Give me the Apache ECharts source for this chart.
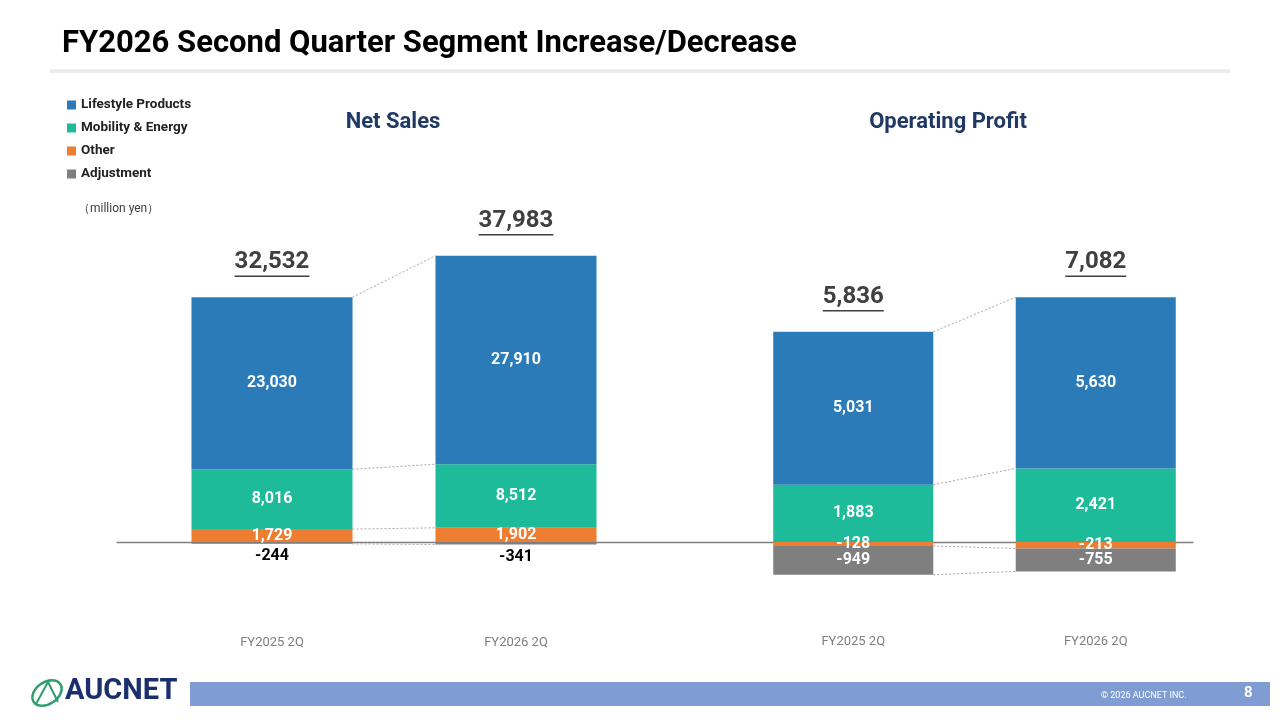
<!DOCTYPE html>
<html>
<head>
<meta charset="utf-8">
<script src="https://cdn.jsdelivr.net/npm/echarts@6/dist/echarts.min.js"></script>
<style>
  html, body { margin: 0; padding: 0; background: #fff; }
  #chart { width: 1280px; height: 720px; }
</style>
</head>
<body>
<div id="chart"></div>
<script>
;(function() {
    var categories = ['FY2025 2Q', 'FY2026 2Q'];
    var segmentNames = ['Lifestyle Products', 'Mobility & Energy', 'Other', 'Adjustment'];

    // Net Sales (million yen)
    var salesLifestyle = [23030, 27910];
    var salesMobility = [8016, 8512];
    var salesOther = [1729, 1902];
    var salesAdjust = [-244, -341];
    var salesTotal = [32532, 37983];

    // Operating Profit (million yen)
    var profitLifestyle = [5031, 5630];
    var profitMobility = [1883, 2421];
    var profitOther = [-128, -213];
    var profitAdjust = [-949, -755];
    var profitTotal = [5836, 7082];

    var colors = {
        'Lifestyle Products': '#2b7bb9',
        'Mobility & Energy': '#1dbb99',
        'Other': '#ed7d31',
        'Adjustment': '#7f7f7f'
    };
    var barRatio = 0.66;
    var font = 'Roboto, "Noto Sans", sans-serif';

    var measureCtx = document.createElement('canvas').getContext('2d');
    function textWidth(txt, f) {
        measureCtx.font = f;
        return measureCtx.measureText(txt).width;
    }
    function fmt(v) {
        return Number(v).toLocaleString('en-US');
    }

    // stack order bottom-up: Other, Adjustment, Mobility, Lifestyle
    function stackOrder(life, mob, oth, adj) {
        return [
            { name: 'Other', data: oth },
            { name: 'Adjustment', data: adj },
            { name: 'Mobility & Energy', data: mob },
            { name: 'Lifestyle Products', data: life }
        ];
    }

    // outer edge of each segment after stacking (same-sign stacking)
    function edges(order) {
        var out = [];
        var pos = [0, 0], neg = [0, 0];
        order.forEach(function(s) {
            var e = [];
            for (var i = 0; i < 2; i++) {
                var v = s.data[i];
                if (v >= 0) { pos[i] += v; e.push(pos[i]); }
                else { neg[i] += v; e.push(neg[i]); }
            }
            out.push([0, e[0], e[1]]);
        });
        return out;
    }
    function positiveTops(order, totals) {
        var res = [];
        for (var i = 0; i < 2; i++) {
            var p = 0;
            order.forEach(function(s) { if (s.data[i] > 0) p += s.data[i]; });
            res.push([i, p, totals[i]]);
        }
        return res;
    }

    function barSeries(order, idx, stack, adjustOutside) {
        return order.map(function(s) {
            var outside = adjustOutside && s.name === 'Adjustment';
            return {
                type: 'bar',
                name: s.name,
                xAxisIndex: idx,
                yAxisIndex: idx,
                stack: stack,
                barWidth: (barRatio * 100) + '%',
                data: s.data,
                itemStyle: { color: colors[s.name] },
                label: {
                    show: true,
                    position: outside ? 'bottom' : 'inside',
                    distance: 4,
                    color: outside ? '#000' : '#fff',
                    fontFamily: font,
                    fontWeight: 'bold',
                    fontSize: 16,
                    formatter: function(p) { return fmt(p.value); }
                }
            };
        });
    }

    function connectorSeries(order, idx) {
        return {
            type: 'custom',
            xAxisIndex: idx,
            yAxisIndex: idx,
            silent: true,
            encode: { x: 0, y: [1, 2] },
            data: edges(order),
            renderItem: function(params, api) {
                var p0 = api.coord([0, api.value(1)]);
                var p1 = api.coord([1, api.value(2)]);
                var half = api.size([1, 0])[0] * barRatio / 2;
                return {
                    type: 'line',
                    shape: { x1: p0[0] + half, y1: p0[1], x2: p1[0] - half, y2: p1[1] },
                    style: { stroke: '#a6a6a6', lineWidth: 1, lineDash: [2, 2] }
                };
            }
        };
    }

    function totalSeries(order, totals, idx) {
        return {
            type: 'custom',
            xAxisIndex: idx,
            yAxisIndex: idx,
            silent: true,
            encode: { x: 0, y: 1 },
            data: positiveTops(order, totals),
            renderItem: function(params, api) {
                var p = api.coord([api.value(0), api.value(1)]);
                var txt = fmt(api.value(2));
                var f = 'bold 24px ' + font;
                var w = textWidth(txt, f);
                return {
                    type: 'group',
                    children: [{
                        type: 'text',
                        style: {
                            text: txt, x: p[0], y: p[1] - 35,
                            align: 'center', verticalAlign: 'middle',
                            font: f, fill: '#404040'
                        }
                    }, {
                        type: 'line',
                        shape: { x1: p[0] - w / 2, y1: p[1] - 21, x2: p[0] + w / 2, y2: p[1] - 21 },
                        style: { stroke: '#404040', lineWidth: 1.5 }
                    }]
                };
            }
        };
    }

    var salesOrder = stackOrder(salesLifestyle, salesMobility, salesOther, salesAdjust);
    var profitOrder = stackOrder(profitLifestyle, profitMobility, profitOther, profitAdjust);

    var catAxis = function(gridIndex, margin) {
        return {
            type: 'category',
            gridIndex: gridIndex,
            data: categories,
            axisLine: { show: false, onZero: false },
            axisTick: { show: false },
            axisLabel: { color: '#7f7f7f', fontSize: 13, fontFamily: font, margin: margin }
        };
    };

    var option = {
        backgroundColor: '#fff',
        animation: false,
        title: [{
            text: 'FY2026 Second Quarter Segment Increase/Decrease',
            left: 57, top: 24,
            textStyle: { fontFamily: font, fontWeight: 'bold', fontSize: 31, color: '#000' }
        }, {
            text: 'Net Sales',
            left: 388, top: 106, textAlign: 'center',
            textStyle: { fontFamily: font, fontWeight: 'bold', fontSize: 22, color: '#1f3864' }
        }, {
            text: 'Operating Profit',
            left: 943, top: 106, textAlign: 'center',
            textStyle: { fontFamily: font, fontWeight: 'bold', fontSize: 22, color: '#1f3864' }
        }],
        legend: {
            data: segmentNames,
            orient: 'vertical',
            left: 62, top: 93,
            itemWidth: 9, itemHeight: 9,
            itemGap: 9,
            icon: 'rect',
            textStyle: { fontFamily: font, fontWeight: 'bold', fontSize: 13.5, color: '#222' }
        },
        grid: [
            { left: 150, width: 488, top: 198.4, bottom: 118.2 },
            { left: 732, width: 485, top: 207.6, bottom: 117.2 },
            { left: 117, right: 87, top: 198.4, bottom: 118.2 }
        ],
        xAxis: [
            catAxis(0, 34),
            catAxis(1, 32),
            {
                type: 'value', gridIndex: 2, min: 0, max: 1,
                axisLine: { show: true, onZero: true, lineStyle: { color: '#7f7f7f', width: 1.3 } },
                axisTick: { show: false }, axisLabel: { show: false }, splitLine: { show: false }
            }
        ],
        yAxis: [
            { type: 'value', gridIndex: 0, min: -8000, max: 46000, show: false, splitLine: { show: false } },
            { type: 'value', gridIndex: 1, min: -2000, max: 11000, show: false, splitLine: { show: false } },
            { type: 'value', gridIndex: 2, min: -8000, max: 46000, show: false, splitLine: { show: false } }
        ],
        graphic: [
            { type: 'rect', shape: { x: 50, y: 69, width: 1180, height: 4 }, style: { fill: '#ececec' }, silent: true },
            { type: 'text', left: 78, top: 203, style: { text: '（million yen）', font: '12px ' + font, fill: '#404040' } },
            { type: 'rect', shape: { x: 190, y: 682, width: 1080, height: 24 }, style: { fill: '#809dd3' }, silent: true },
            { type: 'text', left: 1101, top: 691, style: { text: '© 2026 AUCNET INC.', font: '9px ' + font, fill: '#fff' } },
            { type: 'text', left: 1244, top: 686, style: { text: '8', font: 'bold 15px ' + font, fill: '#fff' } },
            { type: 'ellipse', shape: { cx: 47, cy: 693, rx: 16, ry: 11 }, rotation: 0.6, originX: 47, originY: 693,
              style: { fill: 'none', stroke: '#2f9e6e', lineWidth: 2.5 } },
            { type: 'polyline', shape: { points: [[36, 704], [48, 682], [58, 702]] },
              style: { fill: 'none', stroke: '#2f9e6e', lineWidth: 2 } },
            { type: 'text', left: 65, top: 677, style: { text: 'AUCNET', font: 'bold 29px ' + font, fill: '#1b2f6e' } }
        ],
        series: []
            .concat([connectorSeries(salesOrder, 0), connectorSeries(profitOrder, 1)])
            .concat(barSeries(salesOrder, 0, 'sales', true))
            .concat(barSeries(profitOrder, 1, 'profit', false))
            .concat([totalSeries(salesOrder, salesTotal, 0), totalSeries(profitOrder, profitTotal, 1)])
    };

    var chart = echarts.init(document.querySelector('#chart'));
    chart.setOption(option);
})()
</script>
</body>
</html>
